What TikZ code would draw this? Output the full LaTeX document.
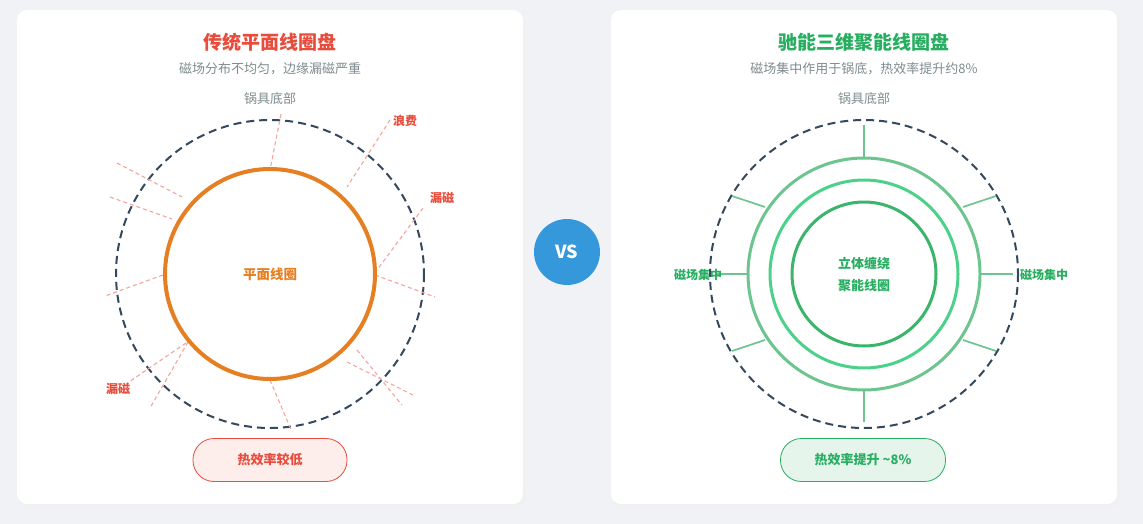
\documentclass[tikz,border=0pt]{standalone}
\usepackage{fontspec}
\setmainfont{Noto Sans CJK SC}
\usetikzlibrary{positioning,calc}
\definecolor{bgc}{HTML}{F0F2F5}
\definecolor{redc}{HTML}{E74C3C}
\definecolor{orc}{HTML}{E67E22}
\definecolor{grnc}{HTML}{27AE60}
\definecolor{grn1}{HTML}{6CC48E}
\definecolor{grn2}{HTML}{4CD18A}
\definecolor{grn3}{HTML}{3BB56C}
\definecolor{navc}{HTML}{34495E}
\definecolor{grayc}{HTML}{7F8C8D}
\definecolor{bluec}{HTML}{3498DB}
\tikzset{
  card/.style={fill=white,rounded corners=10pt,draw=none},
  title/.style={font=\fontsize{19}{22}\selectfont\bfseries},
  subtitle/.style={font=\fontsize{13}{15}\selectfont,text=grayc},
  pot/.style={draw=navc,line width=2pt,dash pattern=on 8pt off 5pt},
  leak/.style={draw=redc!50,line width=1.1pt,dash pattern=on 4pt off 3pt},
  tag/.style={font=\fontsize{12}{14}\selectfont\bfseries},
  pill/.style={rounded corners=21pt,minimum width=154pt,minimum height=43pt,line width=0.8pt,font=\fontsize{13}{15}\selectfont\bfseries},
  ray/.style={draw=grn1,line width=1.6pt}
}
\begin{document}
\begin{tikzpicture}[x=1pt,y=-1pt]
\useasboundingbox (0,0) rectangle (1143,524);
\fill[bgc] (0,0) rectangle (1143,524);
% cards
\fill[black!6,rounded corners=10pt] (18,13) rectangle (525,507);
\fill[black!6,rounded corners=10pt] (612,13) rectangle (1119,507);
\path[card] (17,10) rectangle (523,504);
\path[card] (611,10) rectangle (1117,504);
% left panel
\node[title,text=redc] (ltitle) at (270,42) {传统平面线圈盘};
\node[subtitle] (lsub) at (270,69) {磁场分布不均匀，边缘漏磁严重};
\node[subtitle] (lpot) at (270,99) {锅具底部};
\coordinate (lc) at (270,274);
\draw[pot] (lc) circle (154);
\foreach \a/\b in {{281,114}/{270,170}, {390,120}/{347,187}, {423,208}/{377,270},
  {375,275}/{435,297}, {117,163}/{182,197}, {110,197}/{172,219}, {163,275}/{105,296},
  {188,342}/{150,408}, {186,343}/{126,384}, {270,380}/{292,432},
  {357,350}/{402,405}, {347,362}/{413,395}}
  \draw[leak] (\a) -- (\b);
\draw[orc,line width=4pt] (lc) circle (105);
\node[tag,text=orc,font=\fontsize{13.5}{16}\selectfont\bfseries] (lcoil) at (lc) {平面线圈};
\node[tag,text=redc] (waste) at (405,121) {浪费};
\node[tag,text=redc] (leak1) at (442,198) {漏磁};
\node[tag,text=redc] (leak2) at (118,389) {漏磁};
\node[pill,draw=redc,fill=redc!10,text=redc] (lpill) at (270,460) {热效率较低};
% vs
\node[circle,fill=bluec,minimum size=66pt,text=white,font=\fontsize{18}{20}\selectfont\bfseries] (vs) at (567,252) {VS};
% right panel
\node[title,text=grnc] (rtitle) at (864,42) {驰能三维聚能线圈盘};
\node[subtitle] (rsub) at (864,69) {磁场集中作用于锅底，热效率提升约8\%};
\node[subtitle] (rpot) at (864,99) {锅具底部};
\coordinate (rc) at (864,274);
\draw[pot] (rc) circle (154);
\foreach \a/\b in {{864,125}/{864,158}, {864,390}/{864,422}, {980,274}/{1013,274}, {748,274}/{715,274},
  {963,207}/{996,196}, {963,340}/{996,351}, {765,207}/{732,196}, {765,340}/{732,351}}
  \draw[ray] (\a) -- (\b);
\draw[grn1,line width=3pt] (rc) circle (116);
\draw[grn2,line width=3pt] (rc) circle (94);
\draw[grn3,line width=3pt] (rc) circle (72);
\node[tag,text=grnc,align=center,font=\fontsize{13}{22}\selectfont\bfseries] (rcoil) at (rc) {立体缠绕\\聚能线圈};
\node[tag,text=grnc] (focl) at (698,275) {磁场集中};
\node[tag,text=grnc] (focr) at (1044,275) {磁场集中};
\node[pill,draw=grnc,fill=grnc!12,text=grnc,minimum width=165pt] (rpill) at (863,460) {热效率提升 \textasciitilde8\%};
\end{tikzpicture}
\end{document}
